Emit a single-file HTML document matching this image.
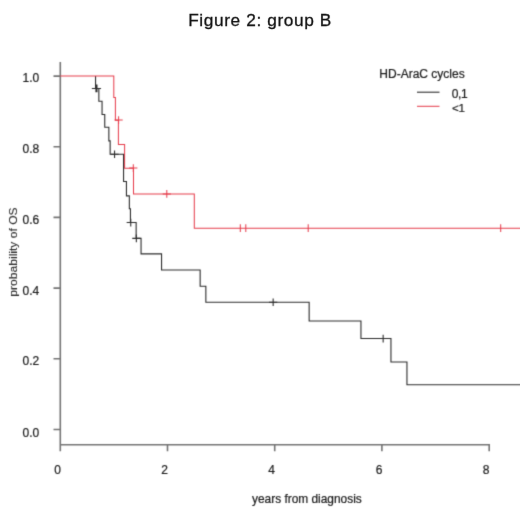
<!DOCTYPE html>
<html>
<head>
<meta charset="utf-8">
<style>
  html, body { margin: 0; padding: 0; background: #ffffff; }
  body { width: 520px; height: 519px; overflow: hidden; position: relative; font-family: "Liberation Sans", sans-serif; }
  svg { position: absolute; left: 0; top: 0; display: block;  }
  text { font-family: "Liberation Sans", sans-serif; stroke: #1c1c1c; stroke-width: 0.22px; }
</style>
</head>
<body>
<svg width="520" height="519" viewBox="0 0 520 519">
  <defs><filter id="soft" x="0" y="0" width="520" height="519" filterUnits="userSpaceOnUse" color-interpolation-filters="sRGB"><feConvolveMatrix order="3" kernelMatrix="0.0192 0.1001 0.0192 0.1001 0.5228 0.1001 0.0192 0.1001 0.0192" edgeMode="duplicate" preserveAlpha="true"/></filter><filter id="soft2" x="0" y="0" width="520" height="50" filterUnits="userSpaceOnUse" color-interpolation-filters="sRGB"><feConvolveMatrix order="3" kernelMatrix="0.0016 0.0371 0.0016 0.0371 0.8450 0.0371 0.0016 0.0371 0.0016" edgeMode="duplicate" preserveAlpha="false"/></filter></defs>
  <g filter="url(#soft)">
  <rect x="0" y="0" width="520" height="519" fill="#ffffff"/>

  <!-- axes -->
  <g stroke="#747474" stroke-width="1.6" fill="none" stroke-linecap="butt">
    <path d="M60.3,62 V451.3"/>
    <path d="M60.3,444.7 H489.2"/>
    <!-- y ticks -->
    <path d="M53.5,76.1 H60.3 M53.5,146.8 H60.3 M53.5,217.4 H60.3 M53.5,288.1 H60.3 M53.5,358.8 H60.3 M53.5,429.5 H60.3"/>
    <!-- x ticks -->
    <path d="M167.5,444.7 V451.3 M274.7,444.7 V451.3 M381.9,444.7 V451.3 M489.2,444.1 V451.3"/>
  </g>

  <!-- y tick labels -->
  <g font-size="12" fill="#1c1c1c" text-anchor="end">
    <text x="39.3" y="82.3">1.0</text>
    <text x="39.3" y="153.1">0.8</text>
    <text x="39.3" y="223.9">0.6</text>
    <text x="39.3" y="294.6">0.4</text>
    <text x="39.3" y="365.3">0.2</text>
    <text x="39.3" y="436.9">0.0</text>
  </g>

  <!-- x tick labels -->
  <g font-size="12" fill="#1c1c1c" text-anchor="middle">
    <text x="57.5" y="473.5">0</text>
    <text x="164.7" y="473.5">2</text>
    <text x="271.5" y="473.5">4</text>
    <text x="379" y="473.5">6</text>
    <text x="486.2" y="473.5">8</text>
  </g>

  <!-- axis titles -->
  <text x="306.9" y="502.5" text-anchor="middle" font-size="11.9" fill="#1c1c1c" style="stroke-width:0.22px">years from diagnosis</text>
  <text transform="translate(17.3,252) rotate(-90) scale(1,0.89)" text-anchor="middle" font-size="12.1" fill="#2a2a2a" style="stroke-width:0.1px">probability of OS</text>

  <!-- black curve -->
  <g stroke="#2c2c2c" stroke-width="1.1" fill="none" stroke-linejoin="miter">
    <path d="M95.55,76.1 V88.45 H98.85 V101.25 H102.05 V114.45 H104.75 V127.25 H108.85 V140.85 H110.15 V154.25 H123.55 V181.55 H126.45 V195.85 H129.35 V208.75 H130.45 V222.55 H136.15 V238.35 H141.05 V253.85 H161.55 V270.05 H200.15 V286.25 H205.85 V302.25 H309.15 V321.05 H360.95 V338.55 H390.95 V362.05 H406.95 V384.75 H520.15"/>
    <!-- censor marks -->
    <path d="M95.95,84.60 V92.30 M91.85,88.45 H100.05 M96.95,84.60 V92.30 M92.85,88.45 H101.05 M114.55,150.40 V158.10 M110.45,154.25 H118.65 M130.75,218.70 V226.40 M126.65,222.55 H134.85 M136.35,234.50 V242.20 M132.25,238.35 H140.45 M273.15,298.40 V306.10 M269.05,302.25 H277.25 M383.15,334.70 V342.40 M379.05,338.55 H387.25"/>
  </g>

  <!-- red curve -->
  <g stroke="#e63c4b" stroke-width="1.02" fill="none" stroke-linejoin="miter">
    <path d="M60.3,76.05 H113.8 V97.6 H115.4 V120.2 H118.4 V144.5 H124.6 V168.2 H133.5 V194 H194.3 V228.2 H520"/>
    <path d="M118.60,116.25 V123.95 M114.50,120.10 H122.70 M133.30,164.25 V171.95 M129.20,168.10 H137.40 M166.80,190.05 V197.75 M162.70,193.90 H170.90 M240.30,224.25 V231.95 M245.80,224.25 V231.95 M308.20,224.25 V231.95 M500.70,224.25 V231.95"/>
  </g>

  <!-- legend -->
  <text x="379.3" y="77.5" font-size="12" fill="#1c1c1c">HD-AraC cycles</text>
  <path d="M417,92.2 H439.5" stroke="#2c2c2c" stroke-width="1.1"/>
  <path d="M417,106.3 H439.5" stroke="#e63c4b" stroke-width="1.02"/>
  <text x="451.7" y="97.5" font-size="12" letter-spacing="-0.3" fill="#1c1c1c">0,1</text>
  <text x="451.9" y="111.7" font-size="11.6" letter-spacing="-0.1" fill="#1c1c1c">&lt;1</text>
  </g>
  <!-- title -->
  <g filter="url(#soft2)"><text x="260.1" y="25.5" text-anchor="middle" font-size="17.3" letter-spacing="0.6" fill="#0c0c0c" style="stroke:#0c0c0c;stroke-width:0.28px">Figure 2: group B</text></g>
</svg>
</body>
</html>
